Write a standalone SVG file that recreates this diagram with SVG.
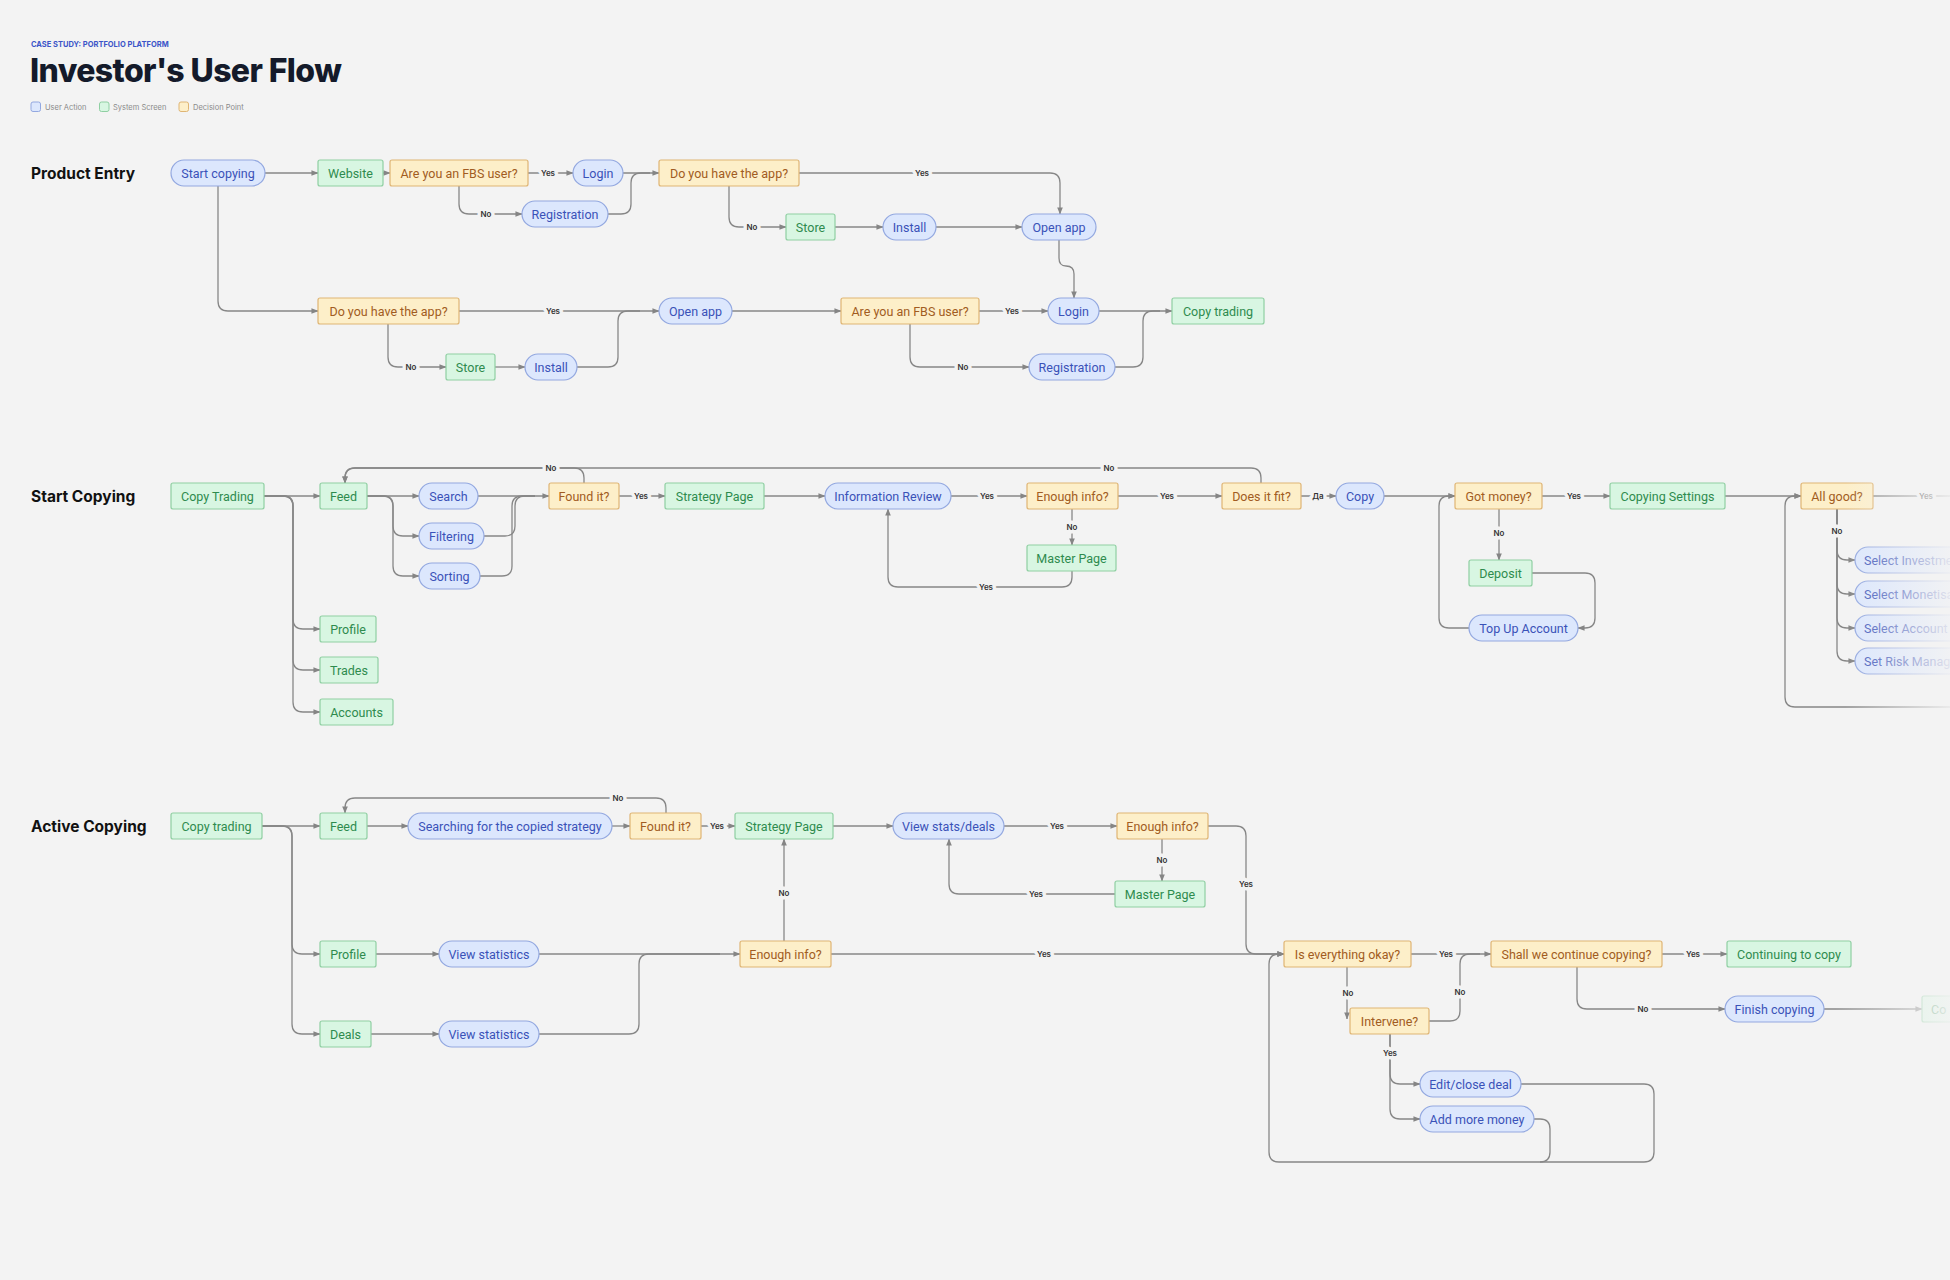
<svg xmlns="http://www.w3.org/2000/svg" width="1950" height="1280" viewBox="0 0 1950 1280">
<defs>
<marker id="ah" viewBox="0 0 8 8" refX="7.5" refY="4" markerWidth="7" markerHeight="7" markerUnits="userSpaceOnUse" orient="auto"><path d="M0,0.8 L8,4 L0,7.2 z" fill="#858585"/></marker>
<linearGradient id="fade" x1="0" y1="0" x2="1" y2="0"><stop offset="0" stop-color="#f3f3f3" stop-opacity="0"/><stop offset="1" stop-color="#f3f3f3" stop-opacity="0.9"/></linearGradient>
<style>
.node text{font-family:Roboto,"Noto Sans",sans-serif;font-size:12.5px;text-anchor:middle;dominant-baseline:central}
.ua rect{fill:#dce7fd;stroke:#93a8e0;stroke-width:1.2}
.ua text{fill:#3a52b8}
.ss rect{fill:#d8f6e2;stroke:#8fcfa2;stroke-width:1.2}
.ss text{fill:#2e8b4e}
.dp rect{fill:#fdefc9;stroke:#dfb574;stroke-width:1.2}
.dp text{fill:#a15c22}
.conn path{fill:none;stroke:#878787;stroke-width:1.3;marker-end:url(#ah)}
.conn path.na{marker-end:none}
.lbl{font-family:Inter,"Noto Sans",sans-serif;font-size:8px;font-weight:600;fill:#333;text-anchor:middle;dominant-baseline:central;paint-order:stroke;stroke:#f3f3f3;stroke-width:7px;stroke-linejoin:round}
.sec{font-family:Inter,"Noto Sans",sans-serif;font-size:15.5px;font-weight:700;fill:#111}
.leg{font-family:Inter,"Noto Sans",sans-serif;font-size:7.5px;fill:#8a8a8a}
</style>
</defs>
<rect x="0" y="0" width="1950" height="1280" fill="#f3f3f3"/>

<g id="header">
<text x="31" y="46.5" font-family="Inter,'Noto Sans',sans-serif" font-size="7.5" font-weight="700" fill="#3b55c8">CASE STUDY: PORTFOLIO PLATFORM</text>
<text x="30" y="82" font-family="Inter,'Noto Sans',sans-serif" font-size="32" font-weight="800" fill="#141a2a" letter-spacing="-0.6">Investor's User Flow</text>
<rect x="31" y="102" width="9.5" height="9.5" rx="2" fill="#dce7fd" stroke="#93a8e0"/>
<text class="leg" x="45" y="109.5">User Action</text>
<rect x="99.5" y="102" width="9.5" height="9.5" rx="2" fill="#d8f6e2" stroke="#8fcfa2"/>
<text class="leg" x="113" y="109.5">System Screen</text>
<rect x="179" y="102" width="9.5" height="9.5" rx="2" fill="#fdefc9" stroke="#dfb574"/>
<text class="leg" x="193" y="109.5">Decision Point</text>
<text class="sec" x="31" y="178.5">Product Entry</text>
<text class="sec" x="31" y="501.5">Start Copying</text>
<text class="sec" x="31" y="831.5">Active Copying</text>
</g>

<g id="connectors" class="conn">
<!-- Product entry -->
<path d="M265,173 H318"/>
<path d="M383,173 H390"/>
<path d="M528,173 H573"/>
<path d="M459,186 V204 Q459,214 469,214 H522"/>
<path d="M623,173 H659"/>
<path class="na" d="M608,214 H621 Q631,214 631,204 V183 Q631,173 641,173 H650"/>
<path d="M799,173 H1050 Q1060,173 1060,183 V214"/>
<path d="M729,186 V217 Q729,227 739,227 H786"/>
<path d="M835,227 H883"/>
<path d="M936,227 H1022"/>
<path d="M1059,240 V258 Q1059,266 1066,266 Q1074,266 1074,274 V298"/>
<path d="M218,186 V301 Q218,311 228,311 H318"/>
<path d="M459,311 H659"/>
<path d="M388,324 V357 Q388,367 398,367 H446"/>
<path d="M495,367 H525"/>
<path class="na" d="M577,367 H608 Q618,367 618,357 V321 Q618,311 628,311 H640"/>
<path d="M732,311 H841"/>
<path d="M979,311 H1048"/>
<path d="M910,324 V357 Q910,367 920,367 H1029"/>
<path d="M1099,311 H1172"/>
<path class="na" d="M1115,367 H1133 Q1143,367 1143,357 V321 Q1143,311 1153,311 H1160"/>
<!-- Start copying -->
<path d="M264,496 H320"/>
<path d="M264,496 H283 Q293,496 293,506 V619 Q293,629 303,629 H320"/>
<path d="M264,496 H283 Q293,496 293,506 V660 Q293,670 303,670 H320"/>
<path d="M264,496 H283 Q293,496 293,506 V702 Q293,712 303,712 H320"/>
<path d="M367,496 H419"/>
<path d="M367,496 H383 Q393,496 393,506 V526 Q393,536 403,536 H419"/>
<path d="M367,496 H383 Q393,496 393,506 V566 Q393,576 403,576 H419"/>
<path d="M478,496 H549"/>
<path class="na" d="M484,536 H505 Q515,536 515,526 V506 Q515,496 525,496 H535"/>
<path class="na" d="M480,576 H502 Q512,576 512,566 V506 Q512,496 522,496 H535"/>
<path d="M619,496 H665"/>
<path d="M584,483 V478 Q584,468 574,468 H355 Q345,468 345,478 V483"/>
<path d="M1261,483 V478 Q1261,468 1251,468 H355 Q345,468 345,478 V483"/>
<path d="M764,496 H825"/>
<path d="M951,496 H1027"/>
<path d="M1118,496 H1222"/>
<path d="M1072,509 V545"/>
<path d="M1072,571 V577 Q1072,587 1062,587 H898 Q888,587 888,577 V509"/>
<path d="M1301,496 H1336"/>
<path d="M1384,496 H1455"/>
<path d="M1542,496 H1610"/>
<path d="M1499,509 V560"/>
<path d="M1532,573 H1585 Q1595,573 1595,583 V618 Q1595,628 1585,628 H1578"/>
<path d="M1469,628 H1449 Q1439,628 1439,618 V506 Q1439,496 1449,496 H1455"/>
<path d="M1725,496 H1801"/>
<path class="na" d="M1873,496 H1950"/>
<path d="M1837,509 V550 Q1837,560 1847,560 H1855"/>
<path d="M1837,509 V584 Q1837,594 1847,594 H1855"/>
<path d="M1837,509 V618 Q1837,628 1847,628 H1855"/>
<path d="M1837,509 V651 Q1837,661 1847,661 H1855"/>
<path d="M1950,707 H1795 Q1785,707 1785,697 V506 Q1785,496 1795,496 H1801"/>
<!-- Active copying -->
<path d="M262,826 H320"/>
<path d="M262,826 H282 Q292,826 292,836 V944 Q292,954 302,954 H320"/>
<path d="M262,826 H282 Q292,826 292,836 V1024 Q292,1034 302,1034 H320"/>
<path d="M367,826 H408"/>
<path d="M612,826 H630"/>
<path d="M701,826 H735"/>
<path d="M666,813 V808 Q666,798 656,798 H355 Q345,798 345,808 V813"/>
<path d="M833,826 H893"/>
<path d="M1004,826 H1117"/>
<path d="M1162,839 V881"/>
<path d="M1115,894 H959 Q949,894 949,884 V839"/>
<path d="M1208,826 H1236 Q1246,826 1246,836 V944 Q1246,954 1256,954 H1284"/>
<path d="M376,954 H439"/>
<path d="M539,954 H740"/>
<path d="M371,1034 H439"/>
<path class="na" d="M539,1034 H629 Q639,1034 639,1024 V964 Q639,954 649,954 H720"/>
<path d="M784,941 V839"/>
<path d="M831,954 H1284"/>
<path d="M1411,954 H1491"/>
<path class="na" d="M1429,1021 H1450 Q1460,1021 1460,1011 V964 Q1460,954 1470,954 H1480"/>
<path d="M1347,967 V1019"/>
<path d="M1390,1034 V1074 Q1390,1084 1400,1084 H1420"/>
<path d="M1390,1034 V1109 Q1390,1119 1400,1119 H1420"/>
<path d="M1521,1084 H1644 Q1654,1084 1654,1094 V1152 Q1654,1162 1644,1162 H1279 Q1269,1162 1269,1152 V964 Q1269,954 1279,954 H1284"/>
<path class="na" d="M1534,1119 H1540 Q1550,1119 1550,1129 V1152 Q1550,1162 1540,1162"/>
<path d="M1662,954 H1727"/>
<path d="M1577,967 V999 Q1577,1009 1587,1009 H1725"/>
<path d="M1824,1009 H1922"/>
</g>

<g id="edge-labels">
<text class="lbl" x="548" y="173">Yes</text>
<text class="lbl" x="486" y="214">No</text>
<text class="lbl" x="922" y="173">Yes</text>
<text class="lbl" x="752" y="227">No</text>
<text class="lbl" x="553" y="311">Yes</text>
<text class="lbl" x="411" y="367">No</text>
<text class="lbl" x="1012" y="311">Yes</text>
<text class="lbl" x="963" y="367">No</text>
<text class="lbl" x="641" y="496">Yes</text>
<text class="lbl" x="551" y="468">No</text>
<text class="lbl" x="1109" y="468">No</text>
<text class="lbl" x="987" y="496">Yes</text>
<text class="lbl" x="1167" y="496">Yes</text>
<text class="lbl" x="1072" y="527">No</text>
<text class="lbl" x="986" y="587">Yes</text>
<text class="lbl" x="1318" y="496">Да</text>
<text class="lbl" x="1574" y="496">Yes</text>
<text class="lbl" x="1499" y="533">No</text>
<text class="lbl" x="1926" y="496">Yes</text>
<text class="lbl" x="1837" y="531">No</text>
<text class="lbl" x="717" y="826">Yes</text>
<text class="lbl" x="618" y="798">No</text>
<text class="lbl" x="1057" y="826">Yes</text>
<text class="lbl" x="1162" y="860">No</text>
<text class="lbl" x="1036" y="894">Yes</text>
<text class="lbl" x="1246" y="884">Yes</text>
<text class="lbl" x="784" y="893">No</text>
<text class="lbl" x="1044" y="954">Yes</text>
<text class="lbl" x="1446" y="954">Yes</text>
<text class="lbl" x="1460" y="992">No</text>
<text class="lbl" x="1348" y="993">No</text>
<text class="lbl" x="1390" y="1053">Yes</text>
<text class="lbl" x="1693" y="954">Yes</text>
<text class="lbl" x="1643" y="1009">No</text>
</g>

<!-- Product Entry nodes -->
<g id="pe-start" class="node ua"><rect x="171" y="160" width="94" height="26" rx="13"/><text x="218" y="173">Start copying</text></g>
<g id="pe-website" class="node ss"><rect x="318" y="160" width="65" height="26" rx="2"/><text x="350.5" y="173">Website</text></g>
<g id="pe-fbs1" class="node dp"><rect x="390" y="160" width="138" height="26" rx="2"/><text x="459" y="173">Are you an FBS user?</text></g>
<g id="pe-login1" class="node ua"><rect x="573" y="160" width="50" height="26" rx="13"/><text x="598" y="173">Login</text></g>
<g id="pe-app1" class="node dp"><rect x="659" y="160" width="140" height="26" rx="2"/><text x="729" y="173">Do you have the app?</text></g>
<g id="pe-reg1" class="node ua"><rect x="522" y="201" width="86" height="26" rx="13"/><text x="565" y="214">Registration</text></g>
<g id="pe-store1" class="node ss"><rect x="786" y="214" width="49" height="26" rx="2"/><text x="810.5" y="227">Store</text></g>
<g id="pe-install1" class="node ua"><rect x="883" y="214" width="53" height="26" rx="13"/><text x="909.5" y="227">Install</text></g>
<g id="pe-open1" class="node ua"><rect x="1022" y="214" width="74" height="26" rx="13"/><text x="1059" y="227">Open app</text></g>
<g id="pe-app2" class="node dp"><rect x="318" y="298" width="141" height="26" rx="2"/><text x="388.5" y="311">Do you have the app?</text></g>
<g id="pe-open2" class="node ua"><rect x="659" y="298" width="73" height="26" rx="13"/><text x="695.5" y="311">Open app</text></g>
<g id="pe-fbs2" class="node dp"><rect x="841" y="298" width="138" height="26" rx="2"/><text x="910" y="311">Are you an FBS user?</text></g>
<g id="pe-login2" class="node ua"><rect x="1048" y="298" width="51" height="26" rx="13"/><text x="1073.5" y="311">Login</text></g>
<g id="pe-copytrading" class="node ss"><rect x="1172" y="298" width="92" height="26" rx="2"/><text x="1218" y="311">Copy trading</text></g>
<g id="pe-store2" class="node ss"><rect x="446" y="354" width="49" height="26" rx="2"/><text x="470.5" y="367">Store</text></g>
<g id="pe-install2" class="node ua"><rect x="525" y="354" width="52" height="26" rx="13"/><text x="551" y="367">Install</text></g>
<g id="pe-reg2" class="node ua"><rect x="1029" y="354" width="86" height="26" rx="13"/><text x="1072" y="367">Registration</text></g>

<!-- Start Copying nodes -->
<g id="sc-copytrading" class="node ss"><rect x="171" y="483" width="93" height="26" rx="2"/><text x="217.5" y="496">Copy Trading</text></g>
<g id="sc-feed" class="node ss"><rect x="320" y="483" width="47" height="26" rx="2"/><text x="343.5" y="496">Feed</text></g>
<g id="sc-search" class="node ua"><rect x="419" y="483" width="59" height="26" rx="13"/><text x="448.5" y="496">Search</text></g>
<g id="sc-filtering" class="node ua"><rect x="419" y="523" width="65" height="26" rx="13"/><text x="451.5" y="536">Filtering</text></g>
<g id="sc-sorting" class="node ua"><rect x="419" y="563" width="61" height="26" rx="13"/><text x="449.5" y="576">Sorting</text></g>
<g id="sc-found" class="node dp"><rect x="549" y="483" width="70" height="26" rx="2"/><text x="584" y="496">Found it?</text></g>
<g id="sc-strategy" class="node ss"><rect x="665" y="483" width="99" height="26" rx="2"/><text x="714.5" y="496">Strategy Page</text></g>
<g id="sc-inforeview" class="node ua"><rect x="825" y="483" width="126" height="26" rx="13"/><text x="888" y="496">Information Review</text></g>
<g id="sc-enough" class="node dp"><rect x="1027" y="483" width="91" height="26" rx="2"/><text x="1072.5" y="496">Enough info?</text></g>
<g id="sc-master" class="node ss"><rect x="1027" y="545" width="89" height="26" rx="2"/><text x="1071.5" y="558">Master Page</text></g>
<g id="sc-fit" class="node dp"><rect x="1222" y="483" width="79" height="26" rx="2"/><text x="1261.5" y="496">Does it fit?</text></g>
<g id="sc-copy" class="node ua"><rect x="1336" y="483" width="48" height="26" rx="13"/><text x="1360" y="496">Copy</text></g>
<g id="sc-money" class="node dp"><rect x="1455" y="483" width="87" height="26" rx="2"/><text x="1498.5" y="496">Got money?</text></g>
<g id="sc-deposit" class="node ss"><rect x="1469" y="560" width="63" height="26" rx="2"/><text x="1500.5" y="573">Deposit</text></g>
<g id="sc-topup" class="node ua"><rect x="1469" y="615" width="109" height="26" rx="13"/><text x="1523.5" y="628">Top Up Account</text></g>
<g id="sc-settings" class="node ss"><rect x="1610" y="483" width="115" height="26" rx="2"/><text x="1667.5" y="496">Copying Settings</text></g>
<g id="sc-allgood" class="node dp"><rect x="1801" y="483" width="72" height="26" rx="2"/><text x="1837" y="496">All good?</text></g>
<g id="sc-sel1" class="node ua"><rect x="1855" y="547" width="160" height="26" rx="13"/><text x="1864" y="560" style="text-anchor:start">Select Investme</text></g>
<g id="sc-sel2" class="node ua"><rect x="1855" y="581" width="160" height="26" rx="13"/><text x="1864" y="594" style="text-anchor:start">Select Monetisa</text></g>
<g id="sc-sel3" class="node ua"><rect x="1855" y="615" width="160" height="26" rx="13"/><text x="1864" y="628" style="text-anchor:start">Select Account</text></g>
<g id="sc-sel4" class="node ua"><rect x="1855" y="648" width="160" height="26" rx="13"/><text x="1864" y="661" style="text-anchor:start">Set Risk Manag</text></g>
<g id="sc-profile" class="node ss"><rect x="320" y="616" width="56" height="26" rx="2"/><text x="348" y="629">Profile</text></g>
<g id="sc-trades" class="node ss"><rect x="320" y="657" width="58" height="26" rx="2"/><text x="349" y="670">Trades</text></g>
<g id="sc-accounts" class="node ss"><rect x="320" y="699" width="73" height="26" rx="2"/><text x="356.5" y="712">Accounts</text></g>

<!-- Active Copying nodes -->
<g id="ac-copytrading" class="node ss"><rect x="171" y="813" width="91" height="26" rx="2"/><text x="216.5" y="826">Copy trading</text></g>
<g id="ac-feed" class="node ss"><rect x="320" y="813" width="47" height="26" rx="2"/><text x="343.5" y="826">Feed</text></g>
<g id="ac-searching" class="node ua"><rect x="408" y="813" width="204" height="26" rx="13"/><text x="510" y="826">Searching for the copied strategy</text></g>
<g id="ac-found" class="node dp"><rect x="630" y="813" width="71" height="26" rx="2"/><text x="665.5" y="826">Found it?</text></g>
<g id="ac-strategy" class="node ss"><rect x="735" y="813" width="98" height="26" rx="2"/><text x="784" y="826">Strategy Page</text></g>
<g id="ac-viewdeals" class="node ua"><rect x="893" y="813" width="111" height="26" rx="13"/><text x="948.5" y="826">View stats/deals</text></g>
<g id="ac-enough1" class="node dp"><rect x="1117" y="813" width="91" height="26" rx="2"/><text x="1162.5" y="826">Enough info?</text></g>
<g id="ac-master" class="node ss"><rect x="1115" y="881" width="90" height="26" rx="2"/><text x="1160" y="894">Master Page</text></g>
<g id="ac-profile" class="node ss"><rect x="320" y="941" width="56" height="26" rx="2"/><text x="348" y="954">Profile</text></g>
<g id="ac-viewstats1" class="node ua"><rect x="439" y="941" width="100" height="26" rx="13"/><text x="489" y="954">View statistics</text></g>
<g id="ac-deals" class="node ss"><rect x="320" y="1021" width="51" height="26" rx="2"/><text x="345.5" y="1034">Deals</text></g>
<g id="ac-viewstats2" class="node ua"><rect x="439" y="1021" width="100" height="26" rx="13"/><text x="489" y="1034">View statistics</text></g>
<g id="ac-enough2" class="node dp"><rect x="740" y="941" width="91" height="26" rx="2"/><text x="785.5" y="954">Enough info?</text></g>
<g id="ac-okay" class="node dp"><rect x="1284" y="941" width="127" height="26" rx="2"/><text x="1347.5" y="954">Is everything okay?</text></g>
<g id="ac-continue" class="node dp"><rect x="1491" y="941" width="171" height="26" rx="2"/><text x="1576.5" y="954">Shall we continue copying?</text></g>
<g id="ac-continuing" class="node ss"><rect x="1727" y="941" width="124" height="26" rx="2"/><text x="1789" y="954">Continuing to copy</text></g>
<g id="ac-intervene" class="node dp"><rect x="1350" y="1008" width="79" height="26" rx="2"/><text x="1389.5" y="1021">Intervene?</text></g>
<g id="ac-finish" class="node ua"><rect x="1725" y="996" width="99" height="26" rx="13"/><text x="1774.5" y="1009">Finish copying</text></g>
<g id="ac-co" class="node ss"><rect x="1922" y="996" width="60" height="26" rx="2"/><text x="1931" y="1009" style="text-anchor:start">Co</text></g>
<g id="ac-edit" class="node ua"><rect x="1420" y="1071" width="101" height="26" rx="13"/><text x="1470.5" y="1084">Edit/close deal</text></g>
<g id="ac-addmoney" class="node ua"><rect x="1420" y="1106" width="114" height="26" rx="13"/><text x="1477" y="1119">Add more money</text></g>

<rect x="1845" y="440" width="105" height="300" fill="url(#fade)"/>
<rect x="1835" y="980" width="115" height="60" fill="url(#fade)"/>
</svg>
